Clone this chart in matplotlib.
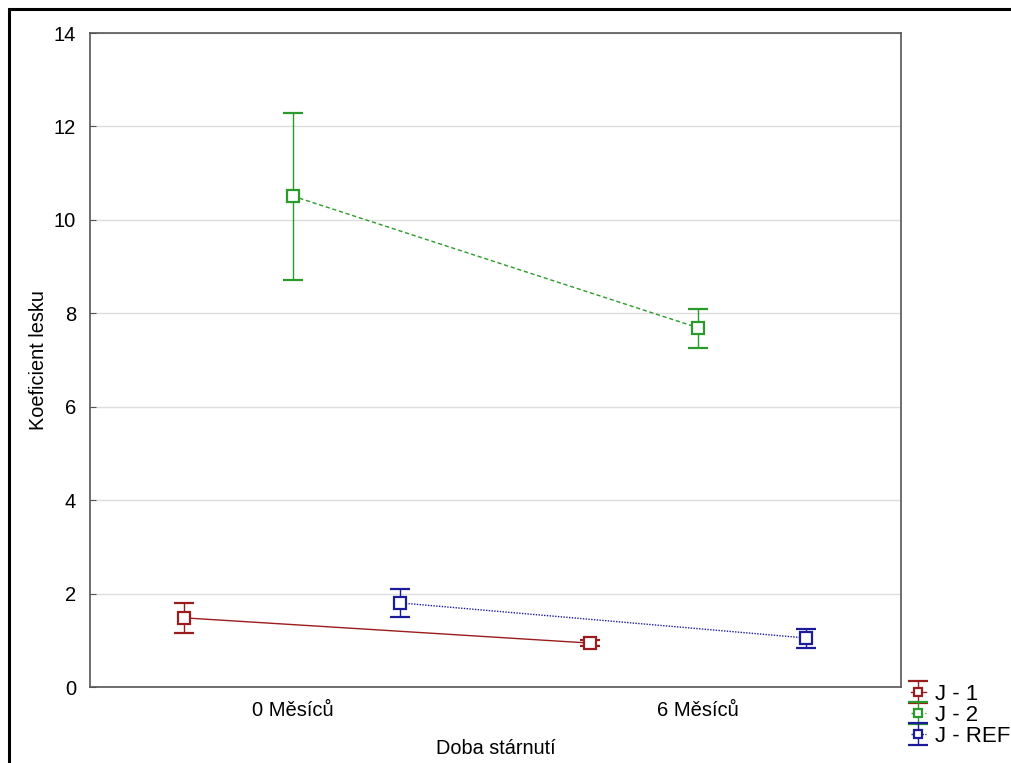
import numpy as np
import matplotlib.pyplot as plt
from matplotlib.patches import Rectangle

plt.rcParams['font.family'] = ['Liberation Sans', 'DejaVu Sans']

# Data
categories = ["0 Měsíců", "6 Měsíců"]
series = ["J - 1", "J - 2", "J - REF"]
means = {
    "J - 1": [1.48, 0.94],
    "J - 2": [10.51, 7.69],
    "J - REF": [1.80, 1.05],
}
lower = {
    "J - 1": [1.16, 0.87],
    "J - 2": [8.71, 7.26],
    "J - REF": [1.50, 0.84],
}
upper = {
    "J - 1": [1.80, 1.01],
    "J - 2": [12.29, 8.09],
    "J - REF": [2.10, 1.24],
}

colors = {"J - 1": "#9b1c1c", "J - 2": "#2a9a2a", "J - REF": "#1c1c9b"}
styles = {"J - 1": "-", "J - 2": (0, (3, 2)), "J - REF": (0, (1, 1))}
offsets = {"J - 1": -0.267, "J - 2": 0.0, "J - REF": 0.265}

fig = plt.figure(figsize=(10.12, 7.63), dpi=100)
ax = fig.add_axes([0.0889, 0.0996, 0.8014, 0.8571])

x = np.arange(len(categories))
handles = []
for s in series:
    m = np.array(means[s])
    yerr = [m - np.array(lower[s]), np.array(upper[s]) - m]
    h = ax.errorbar(x + offsets[s], m, yerr=yerr, color=colors[s],
                    linestyle=styles[s], linewidth=1.0, marker='s',
                    markersize=9, markerfacecolor='white',
                    markeredgewidth=1.6, capsize=7, elinewidth=1.0,
                    capthick=1.0, label=s, zorder=3)
    handles.append(h)

ax.set_xlim(-0.5, 1.5)
ax.set_ylim(0, 14)
ax.set_yticks(range(0, 15, 2))
ax.set_xticks(x)
ax.set_xticklabels(categories)
ax.tick_params(axis='both', labelsize=14.5, length=4, color='#555555')
ax.tick_params(axis='y', direction='in', pad=10)
ax.tick_params(axis='x', length=0, pad=10)
ax.grid(axis='y', color='#dddddd', linewidth=1.0)
ax.set_axisbelow(True)
for sp in ax.spines.values():
    sp.set_color('#555555')
    sp.set_linewidth(1.2)

ax.set_xlabel("Doba stárnutí", fontsize=14.3, labelpad=14)
ax.set_ylabel("Koeficient lesku", fontsize=14.3, labelpad=4)

fig.legend(handles=handles, labels=series, loc='upper left',
           bbox_to_anchor=(0.891, 0.115), frameon=False, fontsize=16,
           markerscale=0.7, handlelength=0.7, handletextpad=0.4,
           labelspacing=0.0, borderaxespad=0)

# outer frame
fig.patches.append(Rectangle((9 / 1012, -0.05), 1.05, 0.988 + 0.05,
                             transform=fig.transFigure, fill=False,
                             edgecolor='black', linewidth=2.2))

fig.savefig("out.png", dpi=100)
